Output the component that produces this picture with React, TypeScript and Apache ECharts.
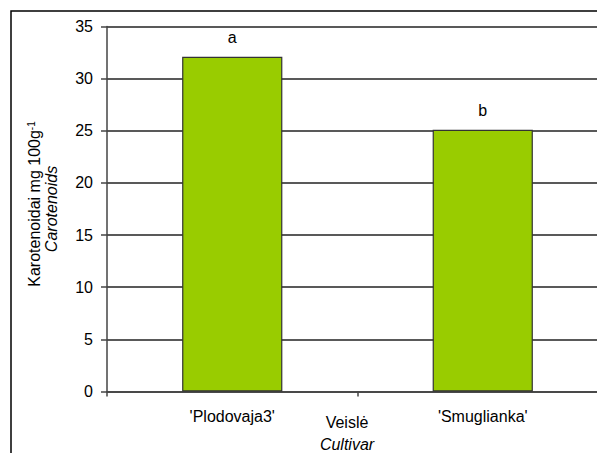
import React, { useEffect, useRef } from "react";
import * as echarts from "echarts";

const categories = ["'Plodovaja3'", "'Smuglianka'"];
const values = [32.1, 25.1];
const letters = ["a", "b"];
const yTicks = { min: 0, max: 35, interval: 5 };

const FONT = "'Liberation Sans', Arial, Helvetica, sans-serif";

export default function App() {
  const ref = useRef<HTMLDivElement>(null);
  useEffect(() => {
    if (!ref.current) return;
    const chart = echarts.init(ref.current, undefined, { renderer: "svg" });
    chart.setOption({
      animation: false,
      backgroundColor: "#fff",
      textStyle: { fontFamily: FONT },
      grid: { left: 107, top: 26.5, right: 32, bottom: 61.5, containLabel: false },
      xAxis: {
        type: "category",
        data: categories,
        axisLine: { show: true, lineStyle: { color: "#444", width: 1.5 } },
        axisTick: { show: true, length: 5, lineStyle: { color: "#444", width: 1.5 } },
        axisLabel: { color: "#000", fontSize: 16, fontFamily: FONT, margin: 17 },
        splitLine: { show: false },
      },
      yAxis: {
        type: "value",
        min: yTicks.min,
        max: yTicks.max,
        interval: yTicks.interval,
        axisLine: { show: true, lineStyle: { color: "#444", width: 1.5 } },
        axisTick: { show: true, length: 6, lineStyle: { color: "#444", width: 1.5 } },
        axisLabel: { color: "#000", fontSize: 16, fontFamily: FONT, margin: 14 },
        splitLine: { show: true, lineStyle: { color: "#222", width: 1.5 } },
      },
      series: [
        {
          type: "bar",
          data: values,
          barWidth: "40%",
          itemStyle: { color: "#99CC00", borderColor: "#333", borderWidth: 1.2 },
          label: {
            show: true,
            position: "top",
            distance: 11,
            fontSize: 16,
            color: "#000",
            fontFamily: FONT,
            formatter: (p: any) => letters[p.dataIndex],
          },
        },
      ],
      graphic: [
        {
          type: "rect",
          shape: { x: 11, y: 11, width: 800, height: 800 },
          style: { fill: "none", stroke: "#000", lineWidth: 1.5 },
          silent: true,
          z: 100,
        },
        {
          type: "text",
          x: 34,
          y: 204,
          rotation: Math.PI / 2,
          style: {
            text: "Karotenoidai mg 100g{sup|-1}",
            font: `16px ${FONT}`,
            fill: "#000",
            align: "center",
            verticalAlign: "middle",
            rich: {
              sup: { fontSize: 10, fontFamily: FONT, verticalAlign: "top", fill: "#000" },
            },
          },
        },
        {
          type: "text",
          x: 51,
          y: 209,
          rotation: Math.PI / 2,
          style: {
            text: "Carotenoids",
            font: `italic 16px ${FONT}`,
            fill: "#000",
            align: "center",
            verticalAlign: "middle",
          },
        },
        {
          type: "text",
          x: 347,
          y: 422,
          style: {
            text: "Veislė",
            font: `16px ${FONT}`,
            fill: "#000",
            align: "center",
            verticalAlign: "middle",
          },
        },
        {
          type: "text",
          x: 347,
          y: 444,
          style: {
            text: "Cultivar",
            font: `italic 16px ${FONT}`,
            fill: "#000",
            align: "center",
            verticalAlign: "middle",
          },
        },
      ],
    });
    return () => chart.dispose();
  }, []);
  return (
    <div
      style={{
        position: "fixed",
        left: 0,
        top: 0,
        width: 597,
        height: 453,
        overflow: "hidden",
        background: "#fff",
      }}
    >
      <div ref={ref} style={{ width: 640, height: 453 }} />
    </div>
  );
}
